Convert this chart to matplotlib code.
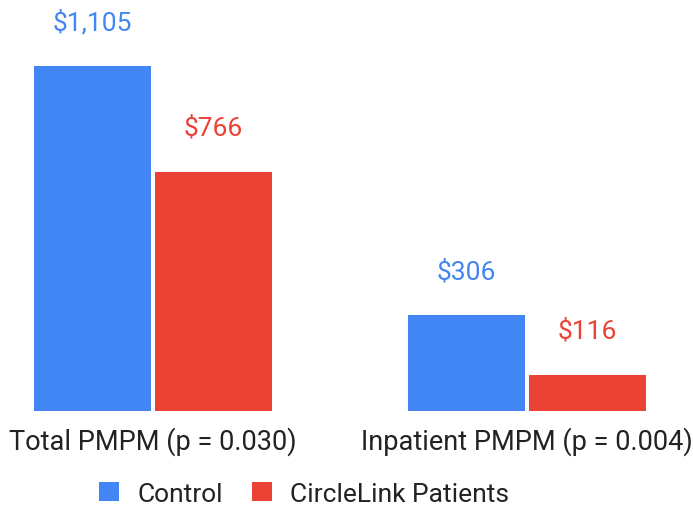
import matplotlib.pyplot as plt
import numpy as np

plt.rcParams['font.family'] = ['Roboto', 'DejaVu Sans']

groups = ['Total PMPM (p = 0.030)', 'Inpatient PMPM (p = 0.004)']
series = ['Control', 'CircleLink Patients']
control = [1105, 306]
circlelink = [766, 116]
colors = ['#4285F4', '#EA4335']

fig = plt.figure(figsize=(6.93, 5.06), dpi=100)
ax = fig.add_axes([0, (506 - 412) / 506, 1, 412 / 506])

x = np.arange(len(groups))
w = 0.313
gap = 0.011
values = [control, circlelink]
offsets = [-(w + gap) / 2, (w + gap) / 2]

handles = []
for vals, off, col, name in zip(values, offsets, colors, series):
    bars = ax.bar(x + off, vals, width=w, color=col, label=name)
    handles.append(bars)
    for b, v in zip(bars, vals):
        ax.annotate(f'${v:,}', (b.get_x() + b.get_width() / 2, v),
                    xytext=(0, 32), textcoords='offset points',
                    ha='center', va='center', color=col, fontsize=19)

ax.set_xlim(-153 / 374, 540 / 374)
ax.set_ylim(0, 1320)
ax.axis('off')

for xi, g in zip(x, groups):
    ax.annotate(g, (xi, 0), xytext=(0, -21), textcoords='offset points',
                ha='center', va='center', color='#222222', fontsize=19.5)

fig.legend(handles=handles, labels=series, loc='center',
           bbox_to_anchor=(304 / 693, 1 - 495 / 506), ncol=2, frameon=False,
           fontsize=19, handlelength=0.75, handleheight=0.75,
           handletextpad=0.7, columnspacing=1.1, labelcolor='#222222')

fig.savefig('out.png', dpi=100)
